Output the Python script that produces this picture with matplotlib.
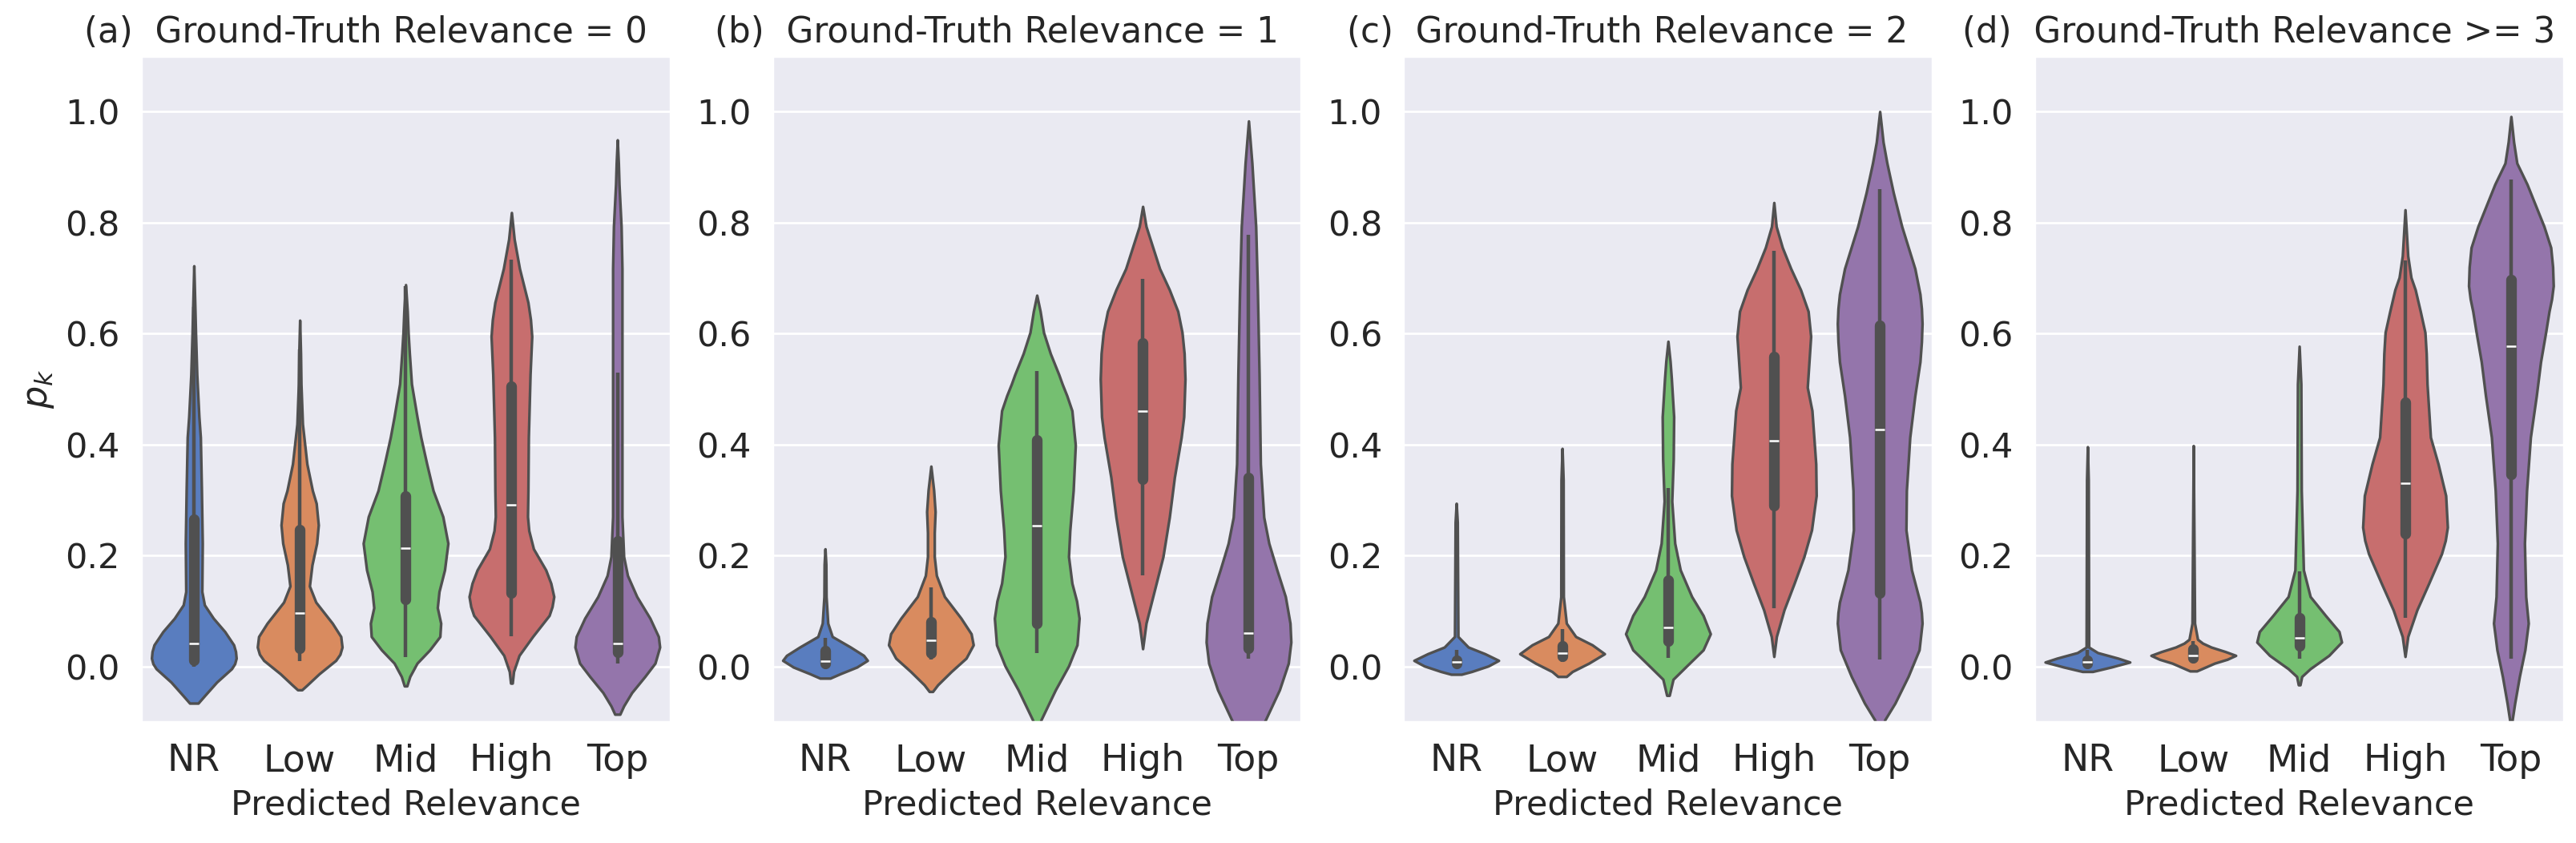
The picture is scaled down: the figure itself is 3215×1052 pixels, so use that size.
import colorsys
import numpy as np
import matplotlib
matplotlib.use("Agg")
import matplotlib.pyplot as plt
import matplotlib.colors as mcolors
import seaborn as sns

# ----- data -----
categories = ["NR", "Low", "Mid", "High", "Top"]
titles = ["(a)  Ground-Truth Relevance = 0", "(b)  Ground-Truth Relevance = 1",
          "(c)  Ground-Truth Relevance = 2", "(d)  Ground-Truth Relevance >= 3"]

# violin outlines: y levels (bottom -> top) and relative half-width at each level
prof_y_a = [
    [-0.066, -0.052, -0.028, -0.004, 0.005, 0.015, 0.027, 0.039, 0.063, 0.087, 0.111, 0.135, 0.222, 0.317, 0.413, 0.45, 0.526, 0.602, 0.648, 0.722],
    [-0.042, -0.033, -0.013, 0.011, 0.022, 0.035, 0.054, 0.078, 0.116, 0.145, 0.183, 0.222, 0.255, 0.294, 0.317, 0.365, 0.437, 0.509, 0.564, 0.624],
    [-0.035, -0.018, 0.006, 0.03, 0.054, 0.078, 0.106, 0.135, 0.174, 0.222, 0.27, 0.317, 0.365, 0.413, 0.45, 0.509, 0.564, 0.602, 0.64, 0.688],
    [-0.03, -0.009, 0.02, 0.054, 0.092, 0.108, 0.126, 0.15, 0.174, 0.212, 0.245, 0.27, 0.317, 0.413, 0.526, 0.595, 0.625, 0.656, 0.717, 0.77, 0.818],
    [-0.086, -0.071, -0.047, -0.018, 0.006, 0.035, 0.054, 0.087, 0.126, 0.164, 0.198, 0.27, 0.509, 0.717, 0.793, 0.869, 0.907, 0.949],
]
prof_w_a = [
    [0.10, 0.26, 0.54, 0.89, 0.965, 1.0, 0.985, 0.94, 0.73, 0.46, 0.25, 0.19, 0.20, 0.18, 0.155, 0.12, 0.07, 0.04, 0.025, 0.0],
    [0.05, 0.18, 0.46, 0.85, 0.95, 1.0, 0.97, 0.77, 0.38, 0.23, 0.29, 0.40, 0.44, 0.39, 0.30, 0.17, 0.065, 0.03, 0.02, 0.0],
    [0.03, 0.10, 0.27, 0.57, 0.81, 0.83, 0.75, 0.79, 0.92, 1.0, 0.88, 0.65, 0.5, 0.36, 0.27, 0.14, 0.09, 0.06, 0.04, 0.0],
    [0.02, 0.05, 0.18, 0.5, 0.89, 0.96, 1.0, 0.93, 0.81, 0.52, 0.41, 0.38, 0.39, 0.40, 0.44, 0.48, 0.45, 0.39, 0.19, 0.065, 0.0],
    [0.06, 0.15, 0.34, 0.65, 0.89, 1.0, 0.97, 0.77, 0.46, 0.24, 0.15, 0.11, 0.11, 0.11, 0.09, 0.04, 0.025, 0.0],
]
prof_y_b = [
    [-0.021, -0.013, -0.001, 0.011, 0.02, 0.035, 0.054, 0.078, 0.126, 0.184, 0.212],
    [-0.045, -0.033, -0.009, 0.015, 0.039, 0.059, 0.087, 0.126, 0.164, 0.198, 0.241, 0.279, 0.318, 0.361],
    [-0.12, -0.096, -0.042, 0.001, 0.039, 0.087, 0.118, 0.15, 0.198, 0.245, 0.317, 0.399, 0.461, 0.488, 0.509, 0.526, 0.564, 0.602, 0.64, 0.669],
    [0.032, 0.078, 0.126, 0.198, 0.269, 0.341, 0.413, 0.45, 0.518, 0.564, 0.602, 0.64, 0.679, 0.717, 0.755, 0.793, 0.829],
    [-0.13, -0.096, -0.042, 0.006, 0.044, 0.078, 0.126, 0.174, 0.222, 0.269, 0.365, 0.526, 0.679, 0.793, 0.907, 0.945, 0.983],
]
prof_w_b = [
    [0.12, 0.36, 0.75, 1.0, 0.91, 0.6, 0.17, 0.065, 0.025, 0.02, 0.0],
    [0.04, 0.16, 0.48, 0.83, 1.0, 0.95, 0.71, 0.32, 0.13, 0.08, 0.08, 0.1, 0.065, 0.0],
    [0.03, 0.1, 0.44, 0.75, 0.95, 1.0, 0.94, 0.83, 0.75, 0.78, 0.86, 0.91, 0.83, 0.71, 0.6, 0.52, 0.32, 0.16, 0.08, 0.0],
    [0.0, 0.08, 0.24, 0.48, 0.63, 0.75, 0.91, 0.97, 1.0, 0.98, 0.93, 0.83, 0.63, 0.4, 0.24, 0.08, 0.0],
    [0.15, 0.4, 0.73, 0.94, 1.0, 0.98, 0.87, 0.67, 0.48, 0.36, 0.28, 0.25, 0.21, 0.17, 0.08, 0.04, 0.0],
]
prof_y_c = [
    [-0.014, -0.009, 0.001, 0.011, 0.023, 0.035, 0.054, 0.26, 0.294],
    [-0.018, -0.009, 0.006, 0.023, 0.039, 0.054, 0.078, 0.126, 0.336, 0.393],
    [-0.052, -0.023, 0.001, 0.03, 0.059, 0.092, 0.126, 0.174, 0.222, 0.298, 0.374, 0.45, 0.519, 0.55, 0.586],
    [0.018, 0.054, 0.102, 0.15, 0.198, 0.246, 0.308, 0.365, 0.461, 0.503, 0.549, 0.595, 0.64, 0.679, 0.717, 0.755, 0.793, 0.836],
    [-0.12, -0.096, -0.066, -0.018, 0.03, 0.078, 0.097, 0.116, 0.174, 0.246, 0.317, 0.413, 0.488, 0.549, 0.585, 0.618, 0.645, 0.671, 0.717, 0.793, 0.854, 0.907, 0.945, 1.0],
]
prof_w_c = [
    [0.12, 0.36, 0.75, 0.99, 0.67, 0.28, 0.04, 0.025, 0.0],
    [0.1, 0.24, 0.63, 1.0, 0.71, 0.32, 0.1, 0.03, 0.025, 0.0],
    [0.03, 0.12, 0.44, 0.83, 1.0, 0.83, 0.56, 0.29, 0.16, 0.09, 0.125, 0.135, 0.08, 0.05, 0.0],
    [0.0, 0.06, 0.24, 0.48, 0.71, 0.89, 1.0, 0.99, 0.9, 0.79, 0.83, 0.87, 0.81, 0.63, 0.4, 0.2, 0.055, 0.0],
    [0.03, 0.12, 0.36, 0.67, 0.93, 1.0, 0.985, 0.95, 0.75, 0.62, 0.63, 0.71, 0.83, 0.95, 0.985, 1.0, 0.985, 0.95, 0.83, 0.52, 0.32, 0.17, 0.08, 0.0],
]
prof_y_d = [
    [-0.009, -0.001, 0.008, 0.015, 0.025, 0.035, 0.336, 0.396],
    [-0.008, 0.006, 0.013, 0.02, 0.027, 0.035, 0.042, 0.049, 0.078, 0.398],
    [-0.033, -0.018, -0.004, 0.02, 0.044, 0.063, 0.092, 0.126, 0.174, 0.317, 0.509, 0.577],
    [0.018, 0.054, 0.102, 0.15, 0.203, 0.227, 0.251, 0.308, 0.365, 0.413, 0.461, 0.509, 0.564, 0.602, 0.64, 0.679, 0.701, 0.74, 0.823],
    [-0.11, -0.096, -0.066, -0.018, 0.03, 0.078, 0.126, 0.222, 0.317, 0.413, 0.488, 0.549, 0.602, 0.64, 0.662, 0.686, 0.72, 0.755, 0.793, 0.831, 0.869, 0.907, 0.945, 0.991],
]
prof_w_d = [
    [0.12, 0.56, 1.0, 0.72, 0.24, 0.03, 0.02, 0.0],
    [0.08, 0.5, 0.8, 1.0, 0.75, 0.42, 0.22, 0.1, 0.03, 0.0],
    [0.02, 0.06, 0.26, 0.7, 1.0, 0.94, 0.62, 0.26, 0.1, 0.05, 0.04, 0.0],
    [0.0, 0.065, 0.28, 0.56, 0.86, 0.95, 1.0, 0.96, 0.78, 0.6, 0.56, 0.52, 0.5, 0.47, 0.36, 0.24, 0.14, 0.064, 0.0],
    [0.02, 0.03, 0.09, 0.2, 0.33, 0.41, 0.35, 0.32, 0.37, 0.46, 0.6, 0.7, 0.82, 0.9, 0.96, 1.0, 0.985, 0.94, 0.78, 0.58, 0.38, 0.14, 0.064, 0.0],
]

# inner box: (q1, median, q3) and whiskers (low, high)
box_a = [(0.005, 0.042, 0.271), (0.027, 0.097, 0.252), (0.115, 0.214, 0.313), (0.126, 0.292, 0.511), (0.02, 0.042, 0.233)]
whis_a = [(0.0, 0.648), (0.01, 0.572), (0.0175, 0.686), (0.054, 0.733), (0.005, 0.53)]
box_b = [(0.0, 0.01, 0.035), (0.018, 0.047, 0.087), (0.071, 0.254, 0.414), (0.332, 0.461, 0.589), (0.027, 0.06, 0.347)]
whis_b = [(0.0, 0.051), (0.013, 0.142), (0.024, 0.532), (0.165, 0.699), (0.0145, 0.778)]
box_c = [(0.0, 0.008, 0.0175), (0.012, 0.024, 0.043), (0.04, 0.071, 0.162), (0.284, 0.407, 0.564), (0.126, 0.427, 0.621)]
whis_c = [(0.0, 0.03), (0.008, 0.068), (0.016, 0.321), (0.105, 0.749), (0.012, 0.86)]
box_d = [(0.0, 0.008, 0.0175), (0.01, 0.02, 0.037), (0.031, 0.051, 0.094), (0.233, 0.33, 0.482), (0.34, 0.577, 0.703)]
whis_d = [(0.0, 0.03), (0.008, 0.046), (0.0145, 0.172), (0.088, 0.732), (0.0145, 0.878)]

panels = [
    (prof_y_a, prof_w_a, box_a, whis_a),
    (prof_y_b, prof_w_b, box_b, whis_b),
    (prof_y_c, prof_w_c, box_c, whis_c),
    (prof_y_d, prof_w_d, box_d, whis_d),
]

# ----- style -----
sns.set_theme(style="darkgrid")
plt.rcParams["font.family"] = ["DejaVu Sans"]


def desaturate(color, prop):
    h, l, s = colorsys.rgb_to_hls(*mcolors.to_rgb(color))
    return colorsys.hls_to_rgb(h, l, s * prop)


colors = [desaturate(c, 0.75) for c in sns.color_palette("muted", 5)]
line_c = "#505050"

fig, axes = plt.subplots(1, 4, figsize=(16.08, 5.26), dpi=200)
fig.subplots_adjust(left=0.0547, right=0.995, bottom=0.1435, top=0.9335, wspace=0.1924)

for ax, title, (ys, ws, boxes, whis) in zip(axes, titles, panels):
    stats = []
    for y, w, (q1, med, q3), (lo, hi) in zip(ys, ws, boxes, whis):
        stats.append(dict(coords=np.array(y), vals=np.array(w), mean=med,
                          median=med, min=lo, max=hi))
    parts = ax.violin(stats, positions=range(len(categories)), widths=0.8,
                      showextrema=False)
    for body, c in zip(parts["bodies"], colors):
        body.set_facecolor(c)
        body.set_edgecolor(line_c)
        body.set_linewidth(1.2)
        body.set_joinstyle("round")
        body.set_alpha(1)

    for i, ((q1, med, q3), (lo, hi)) in enumerate(zip(boxes, whis)):
        ax.plot([i, i], [lo, hi], color=line_c, lw=1.6, solid_capstyle="butt", zorder=3)
        ax.plot([i, i], [q1 + 0.006, q3 - 0.006], color=line_c, lw=4.8,
                solid_capstyle="round", zorder=3)
        ax.plot(i, med, marker="_", ms=4.4, mew=0.9, color="white", zorder=4)

    ax.set_xlim(-0.5, 4.5)
    ax.set_ylim(-0.1, 1.1)
    ax.set_xticks(range(len(categories)))
    ax.set_xticklabels(categories)
    ax.set_yticks([0.0, 0.2, 0.4, 0.6, 0.8, 1.0])
    ax.set_yticklabels(["0.0", "0.2", "0.4", "0.6", "0.8", "1.0"])
    ax.tick_params(axis="x", labelsize=16.5)
    ax.tick_params(axis="y", labelsize=15.5)
    ax.xaxis.grid(False)
    ax.set_xlabel("Predicted Relevance", fontsize=15.5)
    ax.set_title(title, fontsize=15.7, x=0.424)

axes[0].set_ylabel("$p_k$", fontsize=16)

fig.savefig("out.png", dpi=200)
